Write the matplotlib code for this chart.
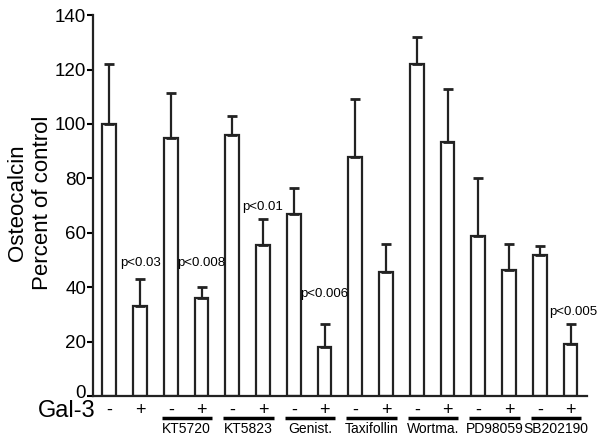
import numpy as np
import matplotlib
matplotlib.use("Agg")
import matplotlib.pyplot as plt
import matplotlib.transforms as mtransforms

plt.rcParams['font.family'] = ['Liberation Sans', 'DejaVu Sans']

# Werte aus der Abbildung (Prozent der Kontrolle), jeweils -/+ Gal-3
means = [100, 33, 95, 36, 96, 55.5, 67, 18, 88, 45.5, 122, 93.5, 59, 46.5, 52, 19]
upper = [122, 43, 111.5, 40, 103, 65, 76.5, 26.5, 109, 56, 132, 113, 80, 56, 55, 26.5]
signs = ['-', '+'] * 8
groups = ['', 'KT5720', 'KT5823', 'Genist.', 'Taxifollin', 'Wortma.', 'PD98059', 'SB202190']
pvals = {1: 'p<0.03', 3: 'p<0.008', 5: 'p<0.01', 7: 'p<0.006', 15: 'p<0.005'}
# Hoehe der p-Beschriftung (in Prozent-Einheiten)
ptext_y = {1: 49, 3: 49, 5: 69.5, 7: 37.5, 15: 31}

x = np.arange(len(means))
err = np.array(upper) - np.array(means)

fig = plt.figure(figsize=(6, 4.45), dpi=100)
ax = fig.add_axes([0.155, 0.11, 0.823, 0.856])

ax.bar(x, means, width=0.45, color='white', edgecolor='#222222', linewidth=1.6)
ax.errorbar(x, means, yerr=[np.zeros_like(err), err], fmt='none', ecolor='#222222',
            elinewidth=1.6, capsize=3.5, capthick=2)

# p-Werte ueber den Balken
for i, txt in pvals.items():
    ax.text(x[i] + (0.08 if i == 15 else 0), ptext_y[i], txt, ha='center', va='center',
            fontsize=9.5)

ax.set_xlim(-0.53, 15.53)
ax.set_ylim(0, 140)
ax.set_yticks(range(0, 141, 20))
ax.set_xticks([])
ax.tick_params(axis='y', labelsize=13.5, length=4, width=1.5, pad=1)
# "0" sitzt im Original etwas hoeher
zero_lbl = ax.get_yticklabels()[0]
zero_lbl.set_transform(zero_lbl.get_transform() +
                       mtransforms.ScaledTranslation(0, 5 / 100, fig.dpi_scale_trans))
for s in ['top', 'right']:
    ax.spines[s].set_visible(False)
for s in ['left', 'bottom']:
    ax.spines[s].set_linewidth(1.6)
    ax.spines[s].set_color('#222222')

trans = mtransforms.blended_transform_factory(ax.transData, ax.transAxes)
for i, s in enumerate(signs):
    ax.text(x[i], -0.037, s, transform=trans, ha='center', va='center', fontsize=13)

for g, name in enumerate(groups):
    if not name:
        continue
    a, b = x[2 * g], x[2 * g + 1]
    ax.plot([a - 0.3, b + 0.35], [-0.058, -0.058], transform=trans, color='black',
            lw=2.5, clip_on=False, solid_capstyle='butt')
    ax.text((a + b) / 2 + 0.02, -0.086, name, transform=trans, ha='center', va='center',
            fontsize=10)

fig.text(67 / 600, 1 - 411 / 445, 'Gal-3', ha='center', va='center', fontsize=17)
fig.text(18 / 600, 1 - 203 / 445, 'Osteocalcin', rotation=90, ha='center', va='center', fontsize=16)
fig.text(43 / 600, 1 - 203 / 445, 'Percent of control', rotation=90, ha='center', va='center', fontsize=16)

fig.savefig('out.png', dpi=100)
